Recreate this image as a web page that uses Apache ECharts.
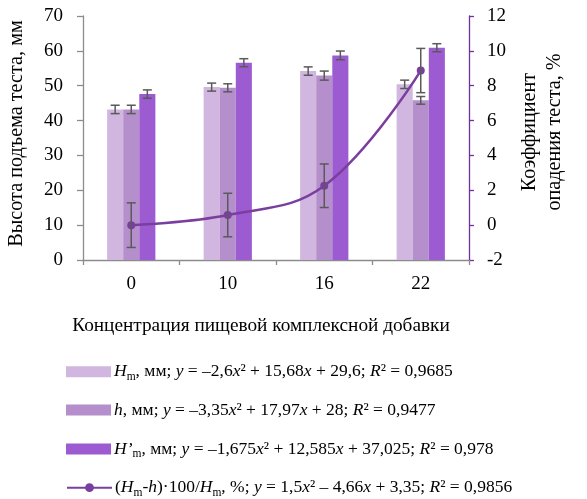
<!DOCTYPE html>
<html><head><meta charset="utf-8">
<script src="https://cdn.jsdelivr.net/npm/echarts@6/dist/echarts.min.js"></script>
<style>html,body{margin:0;padding:0;background:#fff}#c{width:587px;height:499px}</style>
</head><body><div id="c"></div>
<script>
var categories = ['0', '10', '16', '22'];
var hmValues = [43.2, 49.6, 54.2, 50.4];
var hmErrors = [1.2, 1.15, 1.2, 1.2];
var hValues = [43.2, 49.4, 52.9, 45.8];
var hErrors = [1.2, 1.15, 1.3, 1.1];
var hpValues = [47.6, 56.6, 58.7, 60.9];
var hpErrors = [1.2, 1.15, 1.25, 1.15];
var coefValues = [0.0, 0.58, 2.26, 8.87];
var coefErrors = [1.28, 1.25, 1.25, 1.27];
var leftTicks = {min: 0, max: 70, interval: 10};
var rightTicks = {min: -2, max: 12, interval: 2};

var FONT = "'Liberation Serif', 'Times New Roman', serif";
var C_HM = '#D1B6DF', C_H = '#B48FCB', C_HP = '#9C5BD0', C_LINE = '#7A3EA0', C_ERR = '#5A5A5A';

function errData(vals, errs) { return vals.map(function (v, i) { return [i, v, errs[i]]; }); }
function errRender(offset) {
  return function (params, api) {
    var i = api.value(0), v = api.value(1), e = api.value(2);
    var c = api.coord([i, v]);
    var hi = api.coord([i, v + e]);
    var lo = api.coord([i, v - e]);
    var bw = api.size([1, 0])[0] * 0.5 / 3;
    var x = c[0] + offset * bw;
    var cap = 4.5;
    var st = {stroke: C_ERR, lineWidth: 1.5};
    return {type: 'group', children: [
      {type: 'line', shape: {x1: x, y1: hi[1], x2: x, y2: lo[1]}, style: st},
      {type: 'line', shape: {x1: x - cap, y1: hi[1], x2: x + cap, y2: hi[1]}, style: st},
      {type: 'line', shape: {x1: x - cap, y1: lo[1], x2: x + cap, y2: lo[1]}, style: st}
    ]};
  };
}

var legendNames = ['Hm', 'h', "H'm", 'coef'];
var legendText = {
  'Hm': '{i|H}{s|m}, мм; {i|y} = –2,6{i|x}² + 15,68{i|x} + 29,6; {i|R}² = 0,9685',
  'h': '{i|h}, мм; {i|y} = –3,35{i|x}² + 17,97{i|x} + 28; {i|R}² = 0,9477',
  "H'm": '{i|H’}{s|m}, мм; {i|y} = –1,675{i|x}² + 12,585{i|x} + 37,025; {i|R}² = 0,978',
  'coef': '({i|H}{s|m}-{i|h})·100/{i|H}{s|m}, %; {i|y} = 1,5{i|x}² – 4,66{i|x} + 3,35; {i|R}² = 0,9856'
};
var legendTops = [362.7, 401, 440, 478.7];

function makeLegend(name, idx) {
  return {
    orient: 'vertical', left: 66, top: legendTops[idx], padding: 0, itemWidth: 45, itemHeight: 11,
    data: [name === 'coef' ? {name: name} : {name: name, icon: 'rect'}],
    formatter: function (n) { return legendText[n]; },
    textStyle: {
      fontFamily: FONT, fontSize: 17.5, color: '#000', lineHeight: 18, padding: [0, 0, 0, -2],
      rich: {
        i: {fontFamily: FONT, fontSize: 17.5, fontStyle: 'italic', color: '#000', lineHeight: 18},
        s: {fontFamily: FONT, fontSize: 11.5, color: '#000', lineHeight: 11, verticalAlign: 'bottom', padding: [0, 0, -2, 0]}
      }
    }
  };
}

var chart = echarts.init(document.getElementById('c'), null, {renderer: 'canvas'});
chart.setOption({
  animation: false,
  textStyle: {fontFamily: FONT},
  grid: {left: 83, right: 118, top: 16, bottom: 239, containLabel: false, outerBoundsMode: 'none'},
  legend: legendNames.map(makeLegend),
  xAxis: {
    type: 'category', data: categories,
    axisLine: {lineStyle: {color: '#8C8C8C', width: 1.3}},
    axisTick: {show: true, length: 5, lineStyle: {color: '#8C8C8C', width: 1.3}},
    axisLabel: {fontFamily: FONT, fontSize: 19, color: '#000', margin: 15},
    name: 'Концентрация пищевой комплексной добавки', nameLocation: 'middle', nameGap: 56,
    nameTextStyle: {fontFamily: FONT, fontSize: 19.3, color: '#000', padding: [0, 30, 0, 0]}
  },
  yAxis: [{
    type: 'value', min: leftTicks.min, max: leftTicks.max, interval: leftTicks.interval,
    splitLine: {show: false},
    axisLine: {show: true, lineStyle: {color: '#8C8C8C', width: 1.3}},
    axisTick: {show: true, length: 6, lineStyle: {color: '#8C8C8C', width: 1.3}},
    axisLabel: {fontFamily: FONT, fontSize: 19, color: '#000', margin: 20},
    name: 'Высота подъема теста, мм', nameLocation: 'middle', nameGap: 56, nameRotate: 90,
    nameTextStyle: {fontFamily: FONT, fontSize: 20.2, color: '#000', padding: [0, 0, 0, 9]}
  }, {
    type: 'value', position: 'right', min: rightTicks.min, max: rightTicks.max, interval: rightTicks.interval,
    splitLine: {show: false},
    axisLine: {show: true, lineStyle: {color: '#7030A0', width: 1.3}},
    axisTick: {show: true, length: 5, lineStyle: {color: '#7030A0', width: 1.3}},
    axisLabel: {fontFamily: FONT, fontSize: 19, color: '#000', margin: 18},
    name: 'Коэффициент\nопадения теста, %', nameLocation: 'middle', nameGap: 48, nameRotate: 90,
    nameTextStyle: {fontFamily: FONT, fontSize: 20.2, color: '#000', lineHeight: 25, padding: [0, 0, 0, 12]}
  }],
  series: [
    {name: 'Hm', type: 'bar', data: hmValues, barGap: 0, barCategoryGap: '50%', itemStyle: {color: C_HM}},
    {name: 'h', type: 'bar', data: hValues, barGap: 0, barCategoryGap: '50%', itemStyle: {color: C_H}},
    {name: "H'm", type: 'bar', data: hpValues, barGap: 0, barCategoryGap: '50%', itemStyle: {color: C_HP}},
    {name: 'coef', type: 'line', yAxisIndex: 1, data: coefValues, smooth: 0.4, symbol: 'circle', symbolSize: 8,
      lineStyle: {color: C_LINE, width: 2.5}, itemStyle: {color: C_LINE}, z: 3},
    {type: 'custom', renderItem: errRender(-1), data: errData(hmValues, hmErrors), z: 4, silent: true},
    {type: 'custom', renderItem: errRender(0), data: errData(hValues, hErrors), z: 4, silent: true},
    {type: 'custom', renderItem: errRender(1), data: errData(hpValues, hpErrors), z: 4, silent: true},
    {type: 'custom', yAxisIndex: 1, renderItem: errRender(0), data: errData(coefValues, coefErrors), z: 5, silent: true}
  ]
});
</script></body></html>
